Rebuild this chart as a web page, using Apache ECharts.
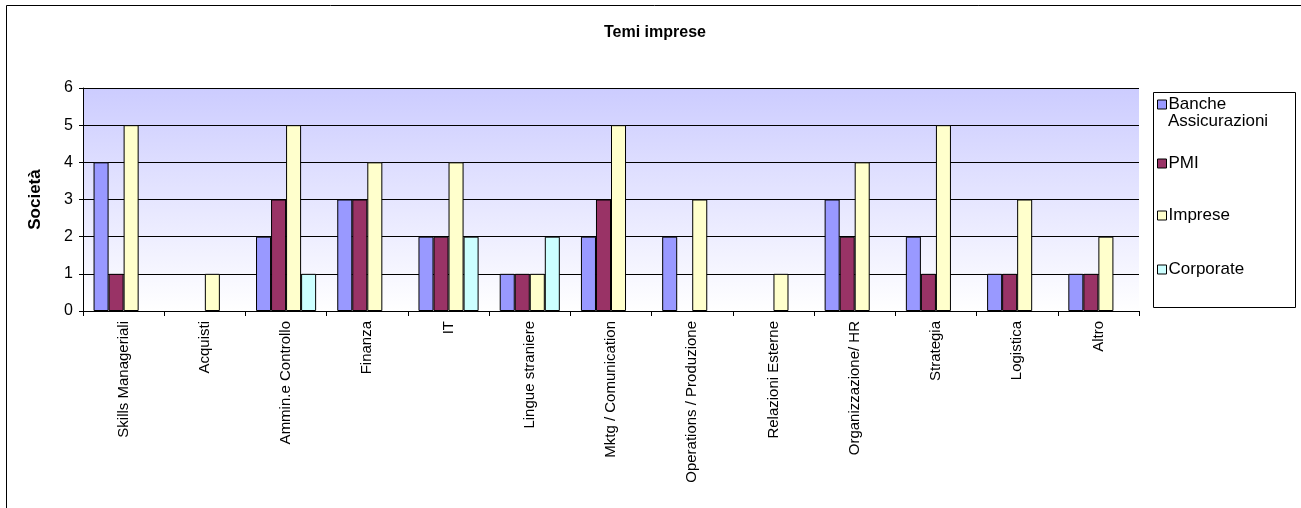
<!DOCTYPE html>
<html>
<head>
<meta charset="utf-8">
<script src="https://cdn.jsdelivr.net/npm/echarts@6/dist/echarts.min.js"></script>
<style>
  html, body { margin: 0; padding: 0; background: #fff; }
  #chart { width: 1301px; height: 508px; }
</style>
</head>
<body>
<div id="chart"></div>
<script>
// Topics requested by companies, counted per company type
const categories = [
  'Skills Manageriali', 'Acquisti', 'Ammin.e Controllo', 'Finanza', 'IT',
  'Lingue straniere', 'Mktg / Comunication', 'Operations / Produzione',
  'Relazioni Esterne', 'Organizzazione/ HR', 'Strategia', 'Logistica', 'Altro'
];
const banche    = [4, 0, 2, 3, 2, 1, 2, 2, 0, 3, 2, 1, 1];
const pmi       = [1, 0, 3, 3, 2, 1, 3, 0, 0, 2, 1, 1, 1];
const imprese   = [5, 1, 5, 4, 4, 1, 5, 3, 1, 4, 5, 3, 2];
const corporate = [0, 0, 1, 0, 2, 2, 0, 0, 0, 0, 0, 0, 0];
const seriesNames = ['Banche Assicurazioni', 'PMI', 'Imprese', 'Corporate'];
const yTicks = [0, 1, 2, 3, 4, 5, 6];

const colors = ['#9999FF', '#993366', '#FFFFCC', '#CCFFFF'];
const font = 'Liberation Sans, Arial, sans-serif';

const chart = echarts.init(document.getElementById('chart'), null, { renderer: 'canvas' });

function bar(name, data, color) {
  return {
    name, type: 'bar',
    // empty counts are left out rather than drawn as flat bars
    data: data.map(v => (v === 0 ? '-' : v)),
    barGap: '0%', barCategoryGap: '26%',
    itemStyle: { color, borderColor: '#000', borderWidth: 1 },
    emphasis: { disabled: true },
    animation: false
  };
}

// one legend per entry so each row sits where it belongs inside the box
const legendTops = [96, 155, 207, 261];
const legends = seriesNames.map((n, i) => ({
  data: [n],
  left: 1157, top: legendTops[i],
  padding: 0,
  orient: 'vertical',
  itemWidth: 9, itemHeight: 9, itemGap: 0,
  icon: 'rect',
  selectedMode: false,
  itemStyle: { borderColor: '#000', borderWidth: 1 },
  textStyle: { fontFamily: font, fontSize: 17, color: '#000', lineHeight: 17, padding: [0, 0, 0, -3] },
  formatter: name => name.split(' ')[0]
}));

chart.setOption({
  animation: false,
  color: colors,
  title: {
    text: 'Temi imprese',
    left: 650, top: 20, textAlign: 'center',
    textStyle: { fontFamily: font, fontSize: 16, fontWeight: 'bold', color: '#000' }
  },
  legend: legends,
  grid: { left: 83, top: 88, width: 1056, height: 223, containLabel: false },
  xAxis: {
    type: 'category',
    data: categories,
    axisLine: { show: true, lineStyle: { color: '#000', width: 1 } },
    axisTick: { show: true, length: 5, alignWithLabel: false, lineStyle: { color: '#000' } },
    axisLabel: {
      rotate: 90, interval: 0, margin: 10,
      fontFamily: font, fontSize: 15, color: '#000'
    }
  },
  yAxis: {
    type: 'value',
    min: yTicks[0], max: yTicks[yTicks.length - 1], interval: 1,
    name: 'Società',
    nameLocation: 'middle', nameGap: 39, nameRotate: 90,
    nameTextStyle: { fontFamily: font, fontSize: 17, fontWeight: 'bold', color: '#000' },
    axisLine: { show: true, lineStyle: { color: '#000', width: 1 } },
    axisTick: { show: true, inside: false, length: 4, lineStyle: { color: '#000' } },
    axisLabel: { fontFamily: font, fontSize: 16, color: '#000', margin: 10 },
    splitLine: { show: true, lineStyle: { color: '#000', width: 1 } },
    splitArea: { show: false }
  },
  graphic: [
    // outer chart frame
    { type: 'rect', shape: { x: 6.5, y: 5.5, width: 1310, height: 520 },
      style: { fill: null, stroke: '#000', lineWidth: 1 }, z: -1, silent: true },
    // plot-area gradient backdrop
    { type: 'rect', shape: { x: 83, y: 88, width: 1056, height: 223 },
      style: {
        fill: new echarts.graphic.LinearGradient(0, 0, 0, 1, [
          { offset: 0, color: '#CCCCFF' },
          { offset: 1, color: '#FFFFFF' }
        ])
      }, z: -10, silent: true },
    // legend frame
    { type: 'rect', shape: { x: 1153.5, y: 92.5, width: 142, height: 215 },
      style: { fill: '#fff', stroke: '#000', lineWidth: 1 }, z: -5, silent: true },
    // second line of the first legend entry
    { type: 'text', left: 1168, top: 113, z: 10, silent: true,
      style: { text: seriesNames[0].split(' ')[1], fontFamily: font, fontSize: 17, fill: '#000' } }
  ],
  series: [
    bar(seriesNames[0], banche, colors[0]),
    bar(seriesNames[1], pmi, colors[1]),
    bar(seriesNames[2], imprese, colors[2]),
    bar(seriesNames[3], corporate, colors[3])
  ]
});
</script>
</body>
</html>
